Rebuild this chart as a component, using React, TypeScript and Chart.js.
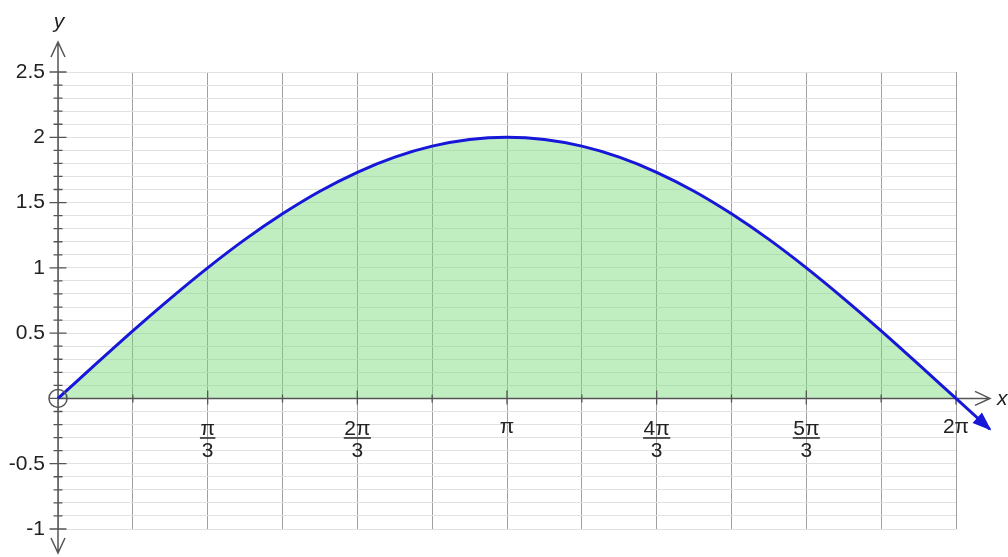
import { useEffect, useRef } from "react";
import { Chart, registerables } from "chart.js";

Chart.register(...registerables);

// Curve y = 2·sin(x/2), sampled every π/12 on [0, 2π]
const CURVE_X = [
  0, 0.2618, 0.5236, 0.7854, 1.0472, 1.309, 1.5708, 1.8326, 2.0944, 2.3562, 2.618, 2.8798, 3.1416,
  3.4034, 3.6652, 3.927, 4.1888, 4.4506, 4.7124, 4.9742, 5.236, 5.4978, 5.7596, 6.0214, 6.2832,
];
const CURVE_Y = [
  0, 0.261, 0.518, 0.765, 1.0, 1.218, 1.414, 1.587, 1.732, 1.848, 1.932, 1.983, 2.0,
  1.983, 1.932, 1.848, 1.732, 1.587, 1.414, 1.218, 1.0, 0.765, 0.518, 0.261, 0,
];
// Short continuation past 2π that ends in an arrowhead
const TAIL_X = [6.2832, 6.52];
const TAIL_Y = [0, -0.236];

// Axes
const X_MAX = 6.2832;
const Y_MIN = -1;
const Y_MAX = 2.5;
const Y_STEP = 0.1;
const X_GRID = [0, 0.5236, 1.0472, 1.5708, 2.0944, 2.618, 3.1416, 3.6652, 4.1888, 4.7124, 5.236, 5.7596, 6.2832];
const X_LABEL_AT = [1.0472, 2.0944, 3.1416, 4.1888, 5.236, 6.2832];
const X_LABEL_NUM = ["π", "2π", "π", "4π", "5π", "2π"];
const X_LABEL_DEN = ["3", "3", "", "3", "3", ""];
const Y_LABELED = [-1, -0.5, 0.5, 1, 1.5, 2, 2.5];

const FONT = '"Liberation Sans", Arial, Helvetica, sans-serif';
const AXIS_COLOR = "#555555";
const TEXT_COLOR = "#222222";
const CURVE_COLOR = "#1717d9";

const isHalfStep = (v: number) => Math.abs(v * 2 - Math.round(v * 2)) < 1e-6;

const decorPlugin = {
  id: "axesDecor",
  beforeDatasetsDraw(chart: any) {
    const { ctx, chartArea } = chart;
    const xs = chart.scales.x;
    const ys = chart.scales.y;
    const x0 = xs.getPixelForValue(0);
    const y0 = ys.getPixelForValue(0);
    ctx.save();
    ctx.strokeStyle = AXIS_COLOR;
    ctx.lineWidth = 1.5;
    ctx.lineCap = "butt";

    // y axis with arrows at both ends
    const yTop = chartArea.top - 30;
    const yBot = chartArea.bottom + 24;
    ctx.beginPath();
    ctx.moveTo(x0, yTop);
    ctx.lineTo(x0, yBot);
    ctx.moveTo(x0 - 7, yTop + 15);
    ctx.lineTo(x0, yTop);
    ctx.lineTo(x0 + 7, yTop + 15);
    ctx.moveTo(x0 - 7, yBot - 15);
    ctx.lineTo(x0, yBot);
    ctx.lineTo(x0 + 7, yBot - 15);
    ctx.stroke();

    // x axis with arrow on the right
    const xEnd = chartArea.right + 34;
    ctx.beginPath();
    ctx.moveTo(x0, y0);
    ctx.lineTo(xEnd, y0);
    ctx.moveTo(xEnd - 15, y0 - 7);
    ctx.lineTo(xEnd, y0);
    ctx.lineTo(xEnd - 15, y0 + 7);
    ctx.stroke();

    // tick marks crossing the y axis
    ctx.lineWidth = 1.3;
    ctx.beginPath();
    for (const t of ys.ticks) {
      const py = ys.getPixelForValue(t.value);
      const half = isHalfStep(t.value) ? 8.5 : 4.5;
      ctx.moveTo(x0 - half, py);
      ctx.lineTo(x0 + half, py);
    }
    // tick marks crossing the x axis
    X_GRID.forEach((v, i) => {
      if (i === 0) return;
      const px = xs.getPixelForValue(v);
      const major = i % 2 === 0;
      ctx.moveTo(px, y0 - (major ? 8 : 4));
      ctx.lineTo(px, y0 + (major ? 6 : 4));
    });
    ctx.stroke();
    ctx.restore();
  },
  afterDatasetsDraw(chart: any) {
    const { ctx, chartArea } = chart;
    const xs = chart.scales.x;
    const ys = chart.scales.y;
    const x0 = xs.getPixelForValue(0);
    const y0 = ys.getPixelForValue(0);
    ctx.save();

    // arrowhead at the end of the tail segment
    const pts = chart.getDatasetMeta(1).data;
    const tip = pts[pts.length - 1];
    const prev = pts[pts.length - 2];
    const ang = Math.atan2(tip.y - prev.y, tip.x - prev.x);
    const len = 17;
    const hw = 7;
    const bx = tip.x - len * Math.cos(ang);
    const by = tip.y - len * Math.sin(ang);
    ctx.fillStyle = CURVE_COLOR;
    ctx.beginPath();
    ctx.moveTo(tip.x + 2 * Math.cos(ang), tip.y + 2 * Math.sin(ang));
    ctx.lineTo(bx - hw * Math.sin(ang), by + hw * Math.cos(ang));
    ctx.lineTo(bx + hw * Math.sin(ang), by - hw * Math.cos(ang));
    ctx.closePath();
    ctx.fill();

    // open circle at the origin
    ctx.strokeStyle = AXIS_COLOR;
    ctx.lineWidth = 1.5;
    ctx.beginPath();
    ctx.arc(x0, y0, 9, 0, Math.PI * 2);
    ctx.stroke();

    // x tick labels as fractions of π
    ctx.fillStyle = TEXT_COLOR;
    ctx.font = `21px ${FONT}`;
    ctx.textAlign = "center";
    ctx.textBaseline = "alphabetic";
    X_LABEL_AT.forEach((v, i) => {
      const px = xs.getPixelForValue(v);
      const num = X_LABEL_NUM[i];
      const den = X_LABEL_DEN[i];
      if (den) {
        ctx.fillText(num, px, y0 + 37);
        ctx.fillText(den, px, y0 + 59);
        const w = Math.max(ctx.measureText(num).width, ctx.measureText(den).width) + 1;
        ctx.fillRect(px - w / 2, y0 + 38.8, w, 1.5);
      } else {
        ctx.fillText(num, px, y0 + 35);
      }
    });

    // axis names
    ctx.font = `italic 21px ${FONT}`;
    ctx.textAlign = "center";
    ctx.fillText("y", x0 + 1, chartArea.top - 44);
    ctx.textAlign = "left";
    ctx.fillText("x", chartArea.right + 41, y0 + 7);
    ctx.restore();
  },
};

export default function App() {
  const canvasRef = useRef<HTMLCanvasElement | null>(null);

  useEffect(() => {
    const canvas = canvasRef.current;
    if (!canvas) return;
    const chart = new Chart(canvas, {
      type: "line",
      data: {
        datasets: [
          {
            data: CURVE_X.map((x, i) => ({ x, y: CURVE_Y[i] })),
            borderColor: CURVE_COLOR,
            borderWidth: 3,
            backgroundColor: "rgba(118, 218, 118, 0.45)",
            fill: "origin",
            pointRadius: 0,
            cubicInterpolationMode: "monotone",
            clip: false as any,
          },
          {
            data: TAIL_X.map((x, i) => ({ x, y: TAIL_Y[i] })),
            borderColor: CURVE_COLOR,
            borderWidth: 3,
            fill: false,
            pointRadius: 0,
            clip: false as any,
          },
        ],
      },
      options: {
        animation: false,
        responsive: false,
        devicePixelRatio: 1,
        layout: { padding: { left: 0, top: 72, right: 52, bottom: 28 } },
        plugins: {
          legend: { display: false },
          tooltip: { enabled: false },
          filler: { drawTime: "beforeDatasetsDraw" },
        },
        scales: {
          x: {
            type: "linear",
            position: { y: 0 } as any,
            min: 0,
            max: X_MAX,
            afterBuildTicks: (scale: any) => {
              scale.ticks = X_GRID.map((value) => ({ value }));
            },
            ticks: { display: false },
            grid: { color: "#a0a0a0", lineWidth: 1, drawTicks: false },
            border: { display: false },
          },
          y: {
            type: "linear",
            min: Y_MIN,
            max: Y_MAX,
            afterFit: (scale: any) => {
              scale.width = 58;
            },
            afterBuildTicks: (scale: any) => {
              const n = Math.round((Y_MAX - Y_MIN) / Y_STEP);
              const ticks = [];
              for (let i = 0; i <= n; i++) {
                ticks.push({ value: Math.round((Y_MIN + i * Y_STEP) * 10) / 10 });
              }
              scale.ticks = ticks;
            },
            ticks: {
              autoSkip: false,
              padding: 13,
              color: TEXT_COLOR,
              font: { family: FONT, size: 21 },
              callback: (value: any) => {
                const hit = Y_LABELED.find((v) => Math.abs(v - Number(value)) < 1e-6);
                return hit === undefined ? "" : String(hit);
              },
            },
            grid: { color: "#e2e2e2", lineWidth: 1, drawTicks: false },
            border: { display: false },
          },
        },
      },
      plugins: [decorPlugin],
    });
    return () => chart.destroy();
  }, []);

  return (
    <div style={{ position: "absolute", left: 0, top: 0, width: 1008, height: 557, background: "#ffffff" }}>
      <canvas ref={canvasRef} width={1008} height={557} style={{ display: "block" }} />
    </div>
  );
}
